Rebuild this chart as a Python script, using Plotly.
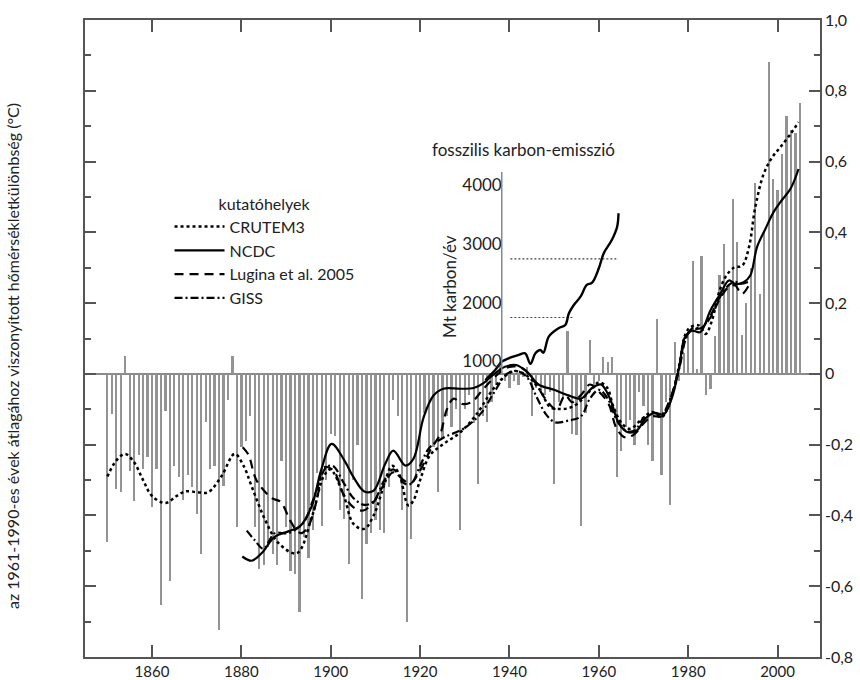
import plotly.graph_objects as go

# ---------------- data ----------------
bar_years = list(range(1850, 2006))
bar_values = [
    -0.475, -0.113, -0.325, -0.334, 0.05, -0.273, -0.36, -0.23, -0.27, -0.235,   # 1850-59
    -0.377, -0.27, -0.654, -0.106, -0.586, -0.26, -0.29, -0.356, -0.287, -0.32,  # 1860-69
    -0.395, -0.51, -0.137, -0.27, -0.26, -0.725, -0.318, -0.075, 0.05, -0.433,   # 1870-79
    -0.207, -0.19, -0.12, -0.433, -0.55, -0.54, -0.49, -0.51, -0.54, -0.245,     # 1880-89
    -0.433, -0.556, -0.565, -0.673, -0.46, -0.52, -0.44, -0.28, -0.43, -0.30,    # 1890-99
    -0.17, -0.175, -0.386, -0.41, -0.537, -0.30, -0.20, -0.636, -0.48, -0.45,    # 1900-09
    -0.414, -0.44, -0.45, -0.32, -0.075, -0.118, -0.386, -0.70, -0.466, -0.29,   # 1910-19
    -0.28, -0.11, -0.226, -0.207, -0.334, -0.18, -0.12, -0.15, -0.10, -0.44,     # 1920-29
    -0.10, -0.06, -0.14, -0.31, -0.12, -0.137, -0.08, -0.03, 0.03, -0.02,        # 1930-39
    -0.04, -0.02, -0.03, -0.01, 0.02, -0.12, -0.04, -0.05, -0.06, -0.05,         # 1940-49
    -0.31, -0.08, -0.07, 0.122, -0.17, -0.174, -0.43, -0.11, 0.096, -0.03,       # 1950-59
    -0.02, 0.047, 0.033, 0.047, -0.29, -0.217, -0.15, -0.13, -0.20, -0.05,       # 1960-69
    -0.09, -0.20, -0.245, 0.155, -0.287, -0.08, -0.37, 0.09, -0.02, 0.06,        # 1970-79
    0.12, 0.32, 0.014, 0.334, -0.06, -0.042, 0.108, 0.28, 0.367, 0.25,           # 1980-89
    0.494, 0.372, 0.11, 0.20, 0.30, 0.54, 0.226, 0.40, 0.88, 0.55,               # 1990-99
    0.52, 0.62, 0.73, 0.69, 0.68, 0.766,                                         # 2000-05
]

crutem_years = [1850, 1852, 1854, 1856, 1858, 1860, 1863, 1865.5, 1867.5, 1870, 1872.5,
                1875.5, 1878.5, 1880.5, 1882.3, 1885.3, 1888.3, 1892.4, 1895.8, 1898.4,
                1899.9, 1902.8, 1905.1, 1907.5, 1909.6, 1911.8, 1913.7, 1915.2, 1917.4,
                1918.5, 1920, 1922.2, 1925.25, 1929, 1932.7, 1936.4, 1939.4, 1941.3,
                1943.9, 1946.9, 1949.1, 1951.4, 1953.2, 1955.1, 1958.1, 1960, 1961.8,
                1963.3, 1965.2, 1967, 1969.7, 1971.9, 1974.1, 1976, 1977.9, 1979.4,
                1980.5, 1982.4, 1983.9, 1985.3, 1986.8, 1988.3, 1990.2, 1992.1, 1993.6,
                1995, 1996.9, 1998.8, 2000.6, 2002.9, 2004.7]
crutem_vals = [-0.29, -0.245, -0.226, -0.25, -0.30, -0.345, -0.365, -0.345, -0.332, -0.334,
               -0.335, -0.29, -0.226, -0.26, -0.318, -0.412, -0.478, -0.507, -0.403, -0.29,
               -0.27, -0.34, -0.424, -0.438, -0.40, -0.32, -0.26, -0.28, -0.372, -0.358,
               -0.30, -0.23, -0.198, -0.165, -0.113, -0.042, -0.002, 0.008, -0.005, -0.047,
               -0.094, -0.099, -0.097, -0.085, -0.047, -0.024, -0.038, -0.094, -0.141,
               -0.155, -0.127, -0.108, -0.122, -0.075, 0.019, 0.113, 0.132, 0.137, 0.113,
               0.15, 0.226, 0.273, 0.30, 0.306, 0.358, 0.47, 0.565, 0.612, 0.64, 0.678, 0.711]

ncdc_years = [1880.2, 1882.3, 1884.5, 1887.5, 1890.5, 1893.1, 1895.7, 1897.9, 1900.2, 1903.2,
              1905.1, 1907.5, 1909.6, 1912.2, 1914, 1916.7, 1918.5, 1920.8, 1923, 1925.2,
              1929, 1932, 1934.2, 1936.4, 1939, 1941.5, 1944, 1946.5, 1950, 1953, 1956,
              1958.5, 1960.5, 1962.5, 1964.5, 1966.5, 1968.5, 1970.5, 1972.5, 1974.5,
              1976.3, 1978, 1979.3, 1980.9, 1982.7, 1985, 1987.2, 1989.1, 1990.6, 1992.4,
              1993.9, 1995.4, 1997.3, 1999.1, 2000.9, 2002.9, 2004.7]
ncdc_vals = [-0.516, -0.528, -0.507, -0.46, -0.445, -0.431, -0.375, -0.27, -0.198, -0.248,
             -0.292, -0.332, -0.33, -0.254, -0.217, -0.259, -0.24, -0.122, -0.061, -0.042,
             -0.042, -0.04, -0.026, -0.002, 0.02, 0.025, 0.005, -0.03, -0.045, -0.06, -0.07,
             -0.04, -0.03, -0.07, -0.14, -0.165, -0.16, -0.125, -0.11, -0.115, -0.07, 0.02,
             0.105, 0.122, 0.118, 0.18, 0.226, 0.264, 0.254, 0.259, 0.278, 0.358, 0.41,
             0.457, 0.49, 0.523, 0.579]

lugina_years = [1880.3, 1881.6, 1883.4, 1886.8, 1888.8, 1890.9, 1892.4, 1893.5, 1895, 1897,
                1898.4, 1900.6, 1902.8, 1905.1, 1907.3, 1909.6, 1911.8, 1914, 1916.3,
                1917.8, 1920, 1922.2, 1924.5, 1926, 1927.5, 1929.5, 1931.5, 1934, 1937,
                1940, 1943, 1945.5, 1948, 1950.5, 1952.5, 1954, 1956, 1958, 1960, 1962.2,
                1964, 1966, 1968, 1970, 1972, 1974, 1976, 1978, 1979.5, 1981, 1983, 1985,
                1987, 1989, 1990.5, 1992, 1994]
lugina_vals = [-0.207, -0.229, -0.301, -0.351, -0.362, -0.414, -0.443, -0.45, -0.43, -0.35,
               -0.264, -0.273, -0.339, -0.377, -0.386, -0.362, -0.315, -0.278, -0.30, -0.31,
               -0.273, -0.217, -0.17, -0.10, -0.07, -0.085, -0.08, -0.045, -0.005, 0.02,
               0.015, -0.02, -0.07, -0.10, -0.06, -0.08, -0.06, -0.03, -0.05, -0.085,
               -0.155, -0.18, -0.17, -0.14, -0.12, -0.12, -0.07, 0.02, 0.105, 0.125, 0.13,
               0.16, 0.21, 0.245, 0.25, 0.226, 0.26]

giss_years = [1881.2, 1883, 1884.9, 1887.5, 1890.5, 1893.9, 1896, 1899, 1900.5, 1903, 1905,
              1907.5, 1909.6, 1912, 1914, 1916.5, 1918, 1920, 1922, 1925.25, 1929.7, 1933.5,
              1936.4, 1939.4, 1941.7, 1943.9, 1946.1, 1948.4, 1950.3, 1953.2, 1956, 1958,
              1960, 1962, 1964, 1966, 1968, 1970, 1972, 1974, 1976, 1978, 1979.5, 1981,
              1983, 1985, 1987, 1989, 1990.5, 1992, 1993.5]
giss_vals = [-0.443, -0.47, -0.494, -0.45, -0.45, -0.42, -0.358, -0.264, -0.26, -0.31, -0.35,
             -0.37, -0.36, -0.30, -0.27, -0.31, -0.31, -0.26, -0.21, -0.18, -0.155, -0.113,
             -0.056, 0.0, 0.008, -0.009, -0.066, -0.118, -0.137, -0.132, -0.12, -0.07,
             -0.045, -0.07, -0.13, -0.16, -0.16, -0.125, -0.11, -0.115, -0.07, 0.015, 0.1,
             0.13, 0.13, 0.165, 0.215, 0.25, 0.26, 0.255, 0.26]

# fossil carbon emission (inset, Mt carbon / year)
emis_years = [1934.6, 1936.8, 1938.3, 1939.8, 1942.0, 1943.5, 1944.7, 1945.8, 1946.9, 1947.6,
              1948.8, 1951.0, 1952.5, 1953.3, 1954.4, 1955.9, 1957.3, 1958.5, 1960.0, 1961.1,
              1962.9, 1964.1, 1964.4]
emis_vals = [685, 855, 997, 1055, 1110, 1140, 960, 1140, 1196, 1150, 1423, 1566, 1622, 1821,
             1963, 2104, 2304, 2343, 2588, 2844, 3070, 3297, 3525]
ref_low_x = [1940.2, 1954.1]
ref_low_y = [1750, 1750]
ref_high_x = [1940.2, 1964.4]
ref_high_y = [2750, 2750]

x_ticks = [1860, 1880, 1900, 1920, 1940, 1960, 1980, 2000]
y_ticks = [1.0, 0.8, 0.6, 0.4, 0.2, 0.0, -0.2, -0.4, -0.6, -0.8]
y_ticklabels = ["1,0", "0,8", "0,6", "0,4", "0,2", "0", "-0,2", "-0,4", "-0,6", "-0,8"]
inset_ticks = [1000, 2000, 3000, 4000]

# ---------------- figure ----------------
FONT = "Lato"
AX = "#555555"
TXT = "#222222"
fig = go.Figure()

fig.add_trace(go.Bar(x=bar_years, y=bar_values, width=0.5,
                     marker=dict(color="#939393", line=dict(width=0)),
                     showlegend=False, hoverinfo="skip"))

fig.add_trace(go.Scatter(x=crutem_years, y=crutem_vals, mode="lines", name="CRUTEM3",
                         line=dict(color="black", width=2.5, dash="dot", shape="spline")))
fig.add_trace(go.Scatter(x=ncdc_years, y=ncdc_vals, mode="lines", name="NCDC",
                         line=dict(color="black", width=2.2, shape="spline")))
fig.add_trace(go.Scatter(x=lugina_years, y=lugina_vals, mode="lines", name="Lugina et al. 2005",
                         line=dict(color="black", width=2.2, dash="9px,6px", shape="spline")))
fig.add_trace(go.Scatter(x=giss_years, y=giss_vals, mode="lines", name="GISS",
                         line=dict(color="black", width=2.2, dash="8px,3px,2px,3px", shape="spline")))

# inset: emission
fig.add_trace(go.Scatter(x=ref_low_x, y=ref_low_y, yaxis="y2", mode="lines", showlegend=False,
                         line=dict(color="#444444", width=1.2, dash="2px,2px")))
fig.add_trace(go.Scatter(x=ref_high_x, y=ref_high_y, yaxis="y2", mode="lines", showlegend=False,
                         line=dict(color="#444444", width=1.2, dash="2px,2px")))
fig.add_trace(go.Scatter(x=emis_years, y=emis_vals, yaxis="y2", mode="lines", showlegend=False,
                         line=dict(color="black", width=2.4, shape="spline")))

INSET_POS = 0.567
fig.add_shape(type="line", xref="paper", yref="y2", x0=INSET_POS, x1=INSET_POS,
              y0=787, y1=4229, line=dict(color="#888888", width=1.5))

fig.update_layout(
    width=860, height=680,
    margin=dict(l=85, r=40, t=20, b=23, autoexpand=False),
    paper_bgcolor="white", plot_bgcolor="white",
    font=dict(family=FONT, size=15, color=TXT),
    bargap=0,
    xaxis=dict(range=[1845, 2009.5], tickvals=x_ticks, ticks="inside", ticklen=12,
               tickwidth=1.5, tickcolor=AX, showline=True, linecolor=AX, linewidth=1.5,
               mirror="ticks", showgrid=False, zeroline=False, automargin=False,
               tickfont=dict(size=15, color=TXT)),
    yaxis=dict(range=[-0.8, 1.0], tickvals=y_ticks, ticktext=y_ticklabels, side="right",
               ticks="inside", ticklen=11, tickwidth=1.5, tickcolor=AX,
               showline=True, linecolor=AX, linewidth=1.5, mirror="ticks", automargin=False,
               showgrid=False, zeroline=True, zerolinecolor="#8a8a8a", zerolinewidth=1.8,
               minor=dict(dtick=0.1, ticks="inside", ticklen=6, tickwidth=1.5, tickcolor=AX),
               tickfont=dict(size=16, color=TXT)),
    yaxis2=dict(overlaying="y", anchor="free", position=INSET_POS, side="left",
                range=[-4035, 6819], tickvals=inset_ticks, showgrid=False, zeroline=False,
                showline=False, ticks="", automargin=False,
                tickfont=dict(size=17, color=TXT)),
    legend=dict(x=0.115, y=0.735, xanchor="left", yanchor="top", bgcolor="rgba(0,0,0,0)",
                font=dict(size=16, color=TXT), itemwidth=50,
                title=dict(text="kutatóhelyek", side="top center", font=dict(size=16))),
    annotations=[
        dict(text="az 1961-1990-es évek átlagához viszonyított hőmérsékletkülönbség (°C)",
             xref="paper", yref="paper", x=-0.0993, y=0.4725, textangle=-90,
             xanchor="center", yanchor="middle",
             showarrow=False, font=dict(size=16, color=TXT)),
        dict(text="fosszilis karbon-emisszió", xref="paper", yref="paper", x=0.596, y=0.796,
             xanchor="center", yanchor="middle",
             showarrow=False, font=dict(size=17, color=TXT)),
        dict(text="Mt karbon/év", xref="paper", yref="paper", x=0.4966, y=0.581,
             xanchor="center", yanchor="middle",
             textangle=-90, showarrow=False, font=dict(size=17, color=TXT)),
    ],
)

fig.write_html("out.html", config={"displayModeBar": False},
               post_script="document.body.style.margin='0';")
